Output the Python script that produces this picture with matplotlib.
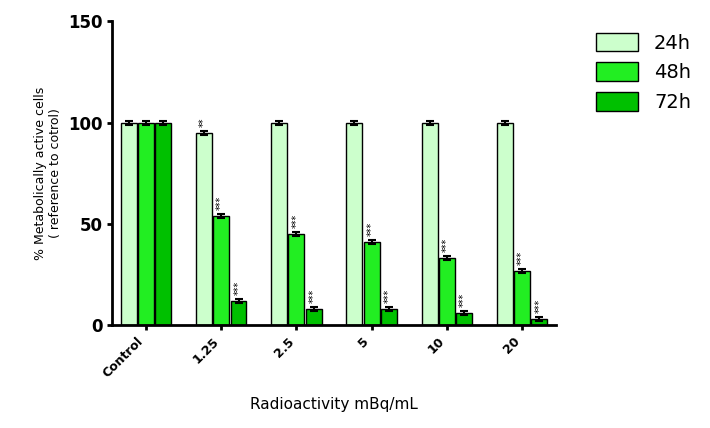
import numpy as np
import matplotlib.pyplot as plt

categories = ["Control", "1.25", "2.5", "5", "10", "20"]
series_names = ["24h", "48h", "72h"]
vals_24h = [100, 95, 100, 100, 100, 100]
vals_48h = [100, 54, 45, 41, 33, 27]
vals_72h = [100, 12, 8, 8, 6, 3]
err_24h = [1, 1, 1, 1, 1, 1]
err_48h = [1, 1, 1, 1, 1, 1]
err_72h = [1, 1, 1, 1, 1, 1]
stars_24h = ["", "**", "", "", "", ""]
stars_48h = ["", "***", "***", "***", "***", "***"]
stars_72h = ["", "***", "***", "***", "***", "***"]

colors = ["#ccffcc", "#22ee22", "#00c000"]

fig = plt.figure(figsize=(7.1, 4.28), dpi=100)
ax = fig.add_axes([0.158, 0.24, 0.625, 0.71])

x = np.arange(len(categories))
w = 0.23
data = [(vals_24h, err_24h, stars_24h), (vals_48h, err_48h, stars_48h), (vals_72h, err_72h, stars_72h)]
for i, (v, e, s) in enumerate(data):
    pos = x + (i - 1) * w
    ax.bar(pos, v, w * 0.92, color=colors[i], edgecolor="black", linewidth=1, label=series_names[i],
           yerr=e, capsize=3, error_kw=dict(elinewidth=1.5, capthick=1.5))
    for p, val, st in zip(pos, v, s):
        if st:
            ax.text(p, val + 3, st, ha="center", va="bottom", rotation=90, fontsize=7)

ax.set_ylim(0, 150)
ax.set_xlim(-0.45, len(categories) - 0.55)
ax.set_yticks([0, 50, 100, 150])
ax.set_xticks(x)
ax.set_xticklabels(categories, rotation=45, ha="right", fontweight="bold", fontsize=9)
for t in ax.get_yticklabels():
    t.set_fontweight("bold")
    t.set_fontsize(12)
ax.spines["top"].set_visible(False)
ax.spines["right"].set_visible(False)
ax.spines["left"].set_linewidth(2)
ax.spines["bottom"].set_linewidth(2)
ax.tick_params(width=2)
ax.set_ylabel("% Metabolically active cells\n( reference to cotrol)", fontsize=9)
ax.set_xlabel("Radioactivity mBq/mL", fontsize=11, labelpad=12)
ax.legend(loc="upper left", bbox_to_anchor=(1.05, 1.02), frameon=False, fontsize=14,
          handlelength=2.2, handleheight=1.1, labelspacing=0.5)

plt.savefig("out.png", dpi=100)
